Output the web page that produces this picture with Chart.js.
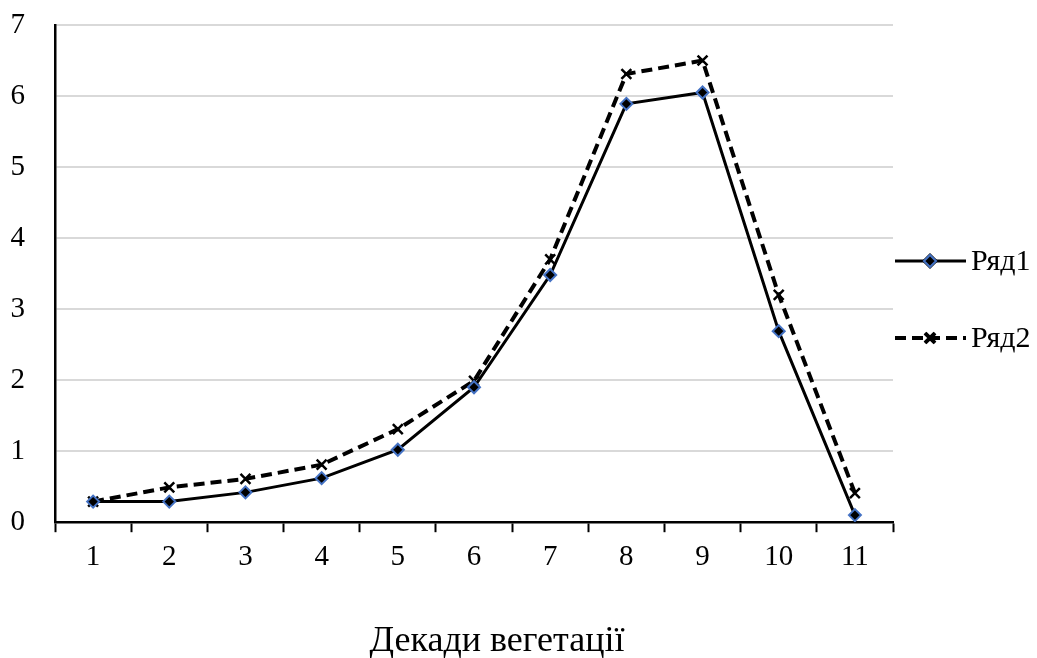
<!DOCTYPE html>
<html>
<head>
<meta charset="utf-8">
<script src="https://cdn.jsdelivr.net/npm/chart.js@4.4.1/dist/chart.umd.min.js"></script>
<style>
  body { margin: 0; background: #fff; }
  #wrap { width: 1037px; height: 658px; }
</style>
</head>
<body>
<div id="wrap"><canvas id="line-chart"></canvas></div>
<script>
// Дані графіка
const decades = ["1", "2", "3", "4", "5", "6", "7", "8", "9", "10", "11"];
const series1 = [0.29, 0.29, 0.42, 0.62, 1.02, 1.9, 3.48, 5.89, 6.05, 2.69, 0.1];
const series2 = [0.29, 0.49, 0.61, 0.81, 1.31, 1.99, 3.7, 6.31, 6.5, 3.2, 0.41];
const seriesNames = ["Ряд1", "Ряд2"];
const yTicks = [0, 1, 2, 3, 4, 5, 6, 7];
const xTitle = "Декади вегетації";

const serif = "'Liberation Serif', 'Times New Roman', serif";

// Легенда праворуч (лінія з маркером посередині) і підпис осі X
const sideLegend = {
  id: "sideLegend",
  afterDraw(chart) {
    const ctx = chart.ctx;
    const x0 = chart.chartArea.right + 2;
    const rows = [261, 338];
    chart.data.datasets.forEach((ds, i) => {
      const y = rows[i];
      ctx.save();
      ctx.strokeStyle = ds.borderColor;
      ctx.lineWidth = ds.borderWidth;
      ctx.setLineDash(ds.borderDash || []);
      ctx.beginPath();
      ctx.moveTo(x0, y);
      ctx.lineTo(x0 + 71, y);
      ctx.stroke();
      ctx.setLineDash([]);
      Chart.helpers.drawPoint(ctx, {
        pointStyle: ds.pointStyle,
        radius: ds.pointRadius,
        borderWidth: ds.pointBorderWidth,
        rotation: 0
      }, x0 + 35, y);
      ctx.fillStyle = ds.pointBackgroundColor;
      ctx.strokeStyle = ds.pointBorderColor;
      ctx.lineWidth = ds.pointBorderWidth;
      ctx.fill();
      ctx.stroke();
      ctx.fillStyle = "#000";
      ctx.font = "30px " + serif;
      ctx.textBaseline = "middle";
      ctx.fillText(ds.label, x0 + 76, y + 1);
      ctx.restore();
    });

    ctx.save();
    ctx.fillStyle = "#000";
    ctx.font = "36px " + serif;
    ctx.textAlign = "center";
    ctx.textBaseline = "middle";
    ctx.fillText(xTitle, 497, 642);
    ctx.restore();
  }
};

const ctx = document.getElementById("line-chart").getContext("2d");
new Chart(ctx, {
  type: "line",
  data: {
    labels: decades,
    datasets: [
      {
        label: seriesNames[0],
        data: series1,
        borderColor: "#000",
        borderWidth: 3,
        pointStyle: "rectRot",
        pointRadius: 6,
        pointBorderWidth: 2,
        pointBorderColor: "#4472c4",
        pointBackgroundColor: "#000",
        tension: 0
      },
      {
        label: seriesNames[1],
        data: series2,
        borderColor: "#000",
        borderWidth: 4,
        borderDash: [11, 6],
        pointStyle: "crossRot",
        pointRadius: 7,
        pointBorderWidth: 2.5,
        pointBorderColor: "#000",
        pointBackgroundColor: "#000",
        tension: 0
      }
    ]
  },
  options: {
    responsive: true,
    maintainAspectRatio: false,
    animation: false,
    layout: { padding: { left: 0, right: 144, top: 25, bottom: 75 } },
    plugins: {
      legend: { display: false },
      tooltip: { enabled: false }
    },
    scales: {
      x: {
        offset: true,
        grid: {
          offset: true,
          drawOnChartArea: false,
          drawTicks: true,
          tickLength: 10,
          tickColor: "#000",
          tickWidth: 2
        },
        border: { color: "#000", width: 2.5 },
        ticks: { color: "#000", padding: 8, font: { family: serif, size: 29 } }
      },
      y: {
        min: 0,
        max: 7,
        afterBuildTicks: s => { s.ticks = yTicks.map(v => ({ value: v })); },
        afterFit: s => { s.width = 55; s.paddingTop = 0; s.paddingBottom = 0; },
        grid: { color: "#d9d9d9", lineWidth: 2, drawTicks: false },
        border: { color: "#000", width: 2.5 },
        ticks: { color: "#000", padding: 30, font: { family: serif, size: 29 } }
      }
    }
  },
  plugins: [sideLegend]
});
</script>
</body>
</html>
